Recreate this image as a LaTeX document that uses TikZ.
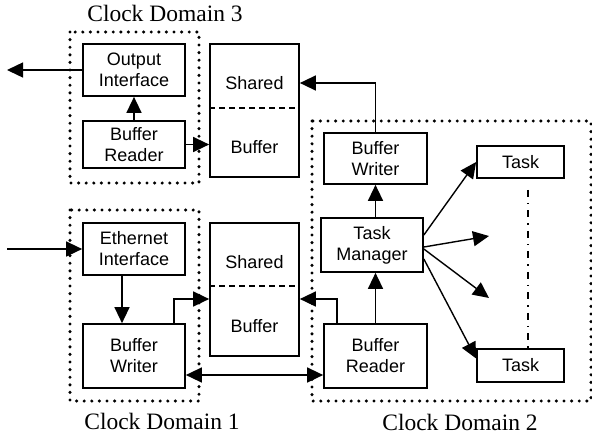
\documentclass[tikz,border=0pt]{standalone}
\usepackage{fontspec}
\setmainfont{Liberation Serif}
\setsansfont{Liberation Sans}
\usetikzlibrary{arrows.meta}

\tikzset{
  blk/.style={draw, line width=1.7pt, inner sep=0pt, align=center,
    font=\sffamily\fontsize{18}{21}\selectfont},
  txt/.style={inner sep=0pt, font=\sffamily\fontsize{18}{21}\selectfont},
  arr/.style={line width=1.4pt, -{Triangle[length=16pt,width=15pt]}},
  biarr/.style={line width=1.4pt, {Triangle[length=16pt,width=15pt]}-{Triangle[length=16pt,width=15pt]}},
  dom/.style={line width=3.4pt, line cap=round, dash pattern=on 0pt off 7.6pt},
  split/.style={line width=1.3pt, dash pattern=on 6pt off 4pt},
  dlabel/.style={inner sep=0pt, font=\fontsize{23.5}{26}\selectfont}
}

\begin{document}
\begin{tikzpicture}[x=1pt, y=-1pt, line join=miter]
  \useasboundingbox (0,0) rectangle (592,434);

  % free ends of the outside links
  \coordinate (out) at (7,70);
  \coordinate (in) at (7,249);
  % level of the side inputs of the lower buffer
  \coordinate (lvl) at (0,299);
  % open arrow ends between the two tasks
  \coordinate (open1) at (489,236);
  \coordinate (open2) at (489,298);

  % clock domains
  \draw[dom] (70,32) rectangle (199,183);
  \draw[dom] (70,210) rectangle (199,401);
  \draw[dom] (312,121) rectangle (591,401);
  \node[dlabel] (cd3) at (165,13.5) {Clock Domain 3};
  \node[dlabel] (cd1) at (162,421) {Clock Domain 1};
  \node[dlabel] (cd2) at (460,422) {Clock Domain 2};

  % domain 3
  \node[blk, minimum width=102pt, minimum height=52pt] (outif) at (134,70) {Output\\Interface};
  \node[blk, minimum width=102pt, minimum height=47pt] (rdr3) at (134,144.5) {Buffer\\Reader};

  % domain 1
  \node[blk, minimum width=102pt, minimum height=52pt] (ethif) at (134,249) {Ethernet\\Interface};
  \node[blk, minimum width=102pt, minimum height=64pt] (wr1) at (134,356) {Buffer\\Writer};

  % shared buffers
  \node[blk, minimum width=89pt, minimum height=133pt] (shbuf3) at (254.5,110.5) {};
  \draw[split] ([yshift=2.5pt]shbuf3.west) -- ([yshift=2.5pt]shbuf3.east);
  \node[txt] (shtxt3) at (254.5,83) {Shared};
  \node[txt] (bftxt3) at (254.5,147) {Buffer};

  \node[blk, minimum width=89pt, minimum height=133pt] (shbuf1) at (254.5,289.5) {};
  \draw[split] ([yshift=3.5pt]shbuf1.west) -- ([yshift=3.5pt]shbuf1.east);
  \node[txt] (shtxt1) at (254.5,262) {Shared};
  \node[txt] (bftxt1) at (254.5,326) {Buffer};

  % domain 2
  \node[blk, minimum width=103pt, minimum height=51pt] (wr2) at (375.5,158.5) {Buffer\\Writer};
  \node[blk, minimum width=102pt, minimum height=54pt] (tman) at (372,245) {Task\\Manager};
  \node[blk, minimum width=103pt, minimum height=64pt] (rd2) at (375.5,356) {Buffer\\Reader};
  \node[blk, minimum width=87pt, minimum height=32pt] (task1) at (520.5,162) {Task};
  \node[blk, minimum width=87pt, minimum height=33pt] (task2) at (520.5,365.5) {Task};
  \draw[line width=1.6pt, dash pattern=on 7pt off 6pt on 1.5pt off 6pt, shorten <=11pt]
    ([xshift=7.5pt]task1.south) -- ([xshift=7.5pt]task2.north);

  % links
  \draw[arr] (outif.west) -- (out);
  \draw[arr] (rdr3.north) -- (outif.south);
  \draw[arr] (rdr3.east) -- (rdr3.east -| shbuf3.west);
  \draw[arr] (wr2.north) |- (shbuf3.east |- shtxt3);

  \draw[arr] (in) -- (ethif.west);
  \draw[arr] ([xshift=-12pt]ethif.south) -- ([xshift=-12pt]wr1.north);
  \draw[arr] ([xshift=-12pt]wr1.north east) |- (shbuf1.west |- lvl);
  \draw[arr] ([xshift=14pt]rd2.north west) |- (shbuf1.east |- lvl);
  \draw[biarr] ([yshift=-19pt]wr1.east) -- ([yshift=-19pt]rd2.west);

  \draw[arr] (rd2.north) -- (rd2.north |- tman.south);
  \draw[arr] (wr2.south |- tman.north) -- (wr2.south);
  \draw[arr] ([yshift=10pt]tman.east) -- (task1.west);
  \draw[arr] ([yshift=-2pt]tman.east) -- (open1);
  \draw[arr] ([yshift=-4pt]tman.east) -- (open2);
  \draw[arr] ([yshift=-14pt]tman.east) -- ([yshift=7pt]task2.west);
\end{tikzpicture}
\end{document}
